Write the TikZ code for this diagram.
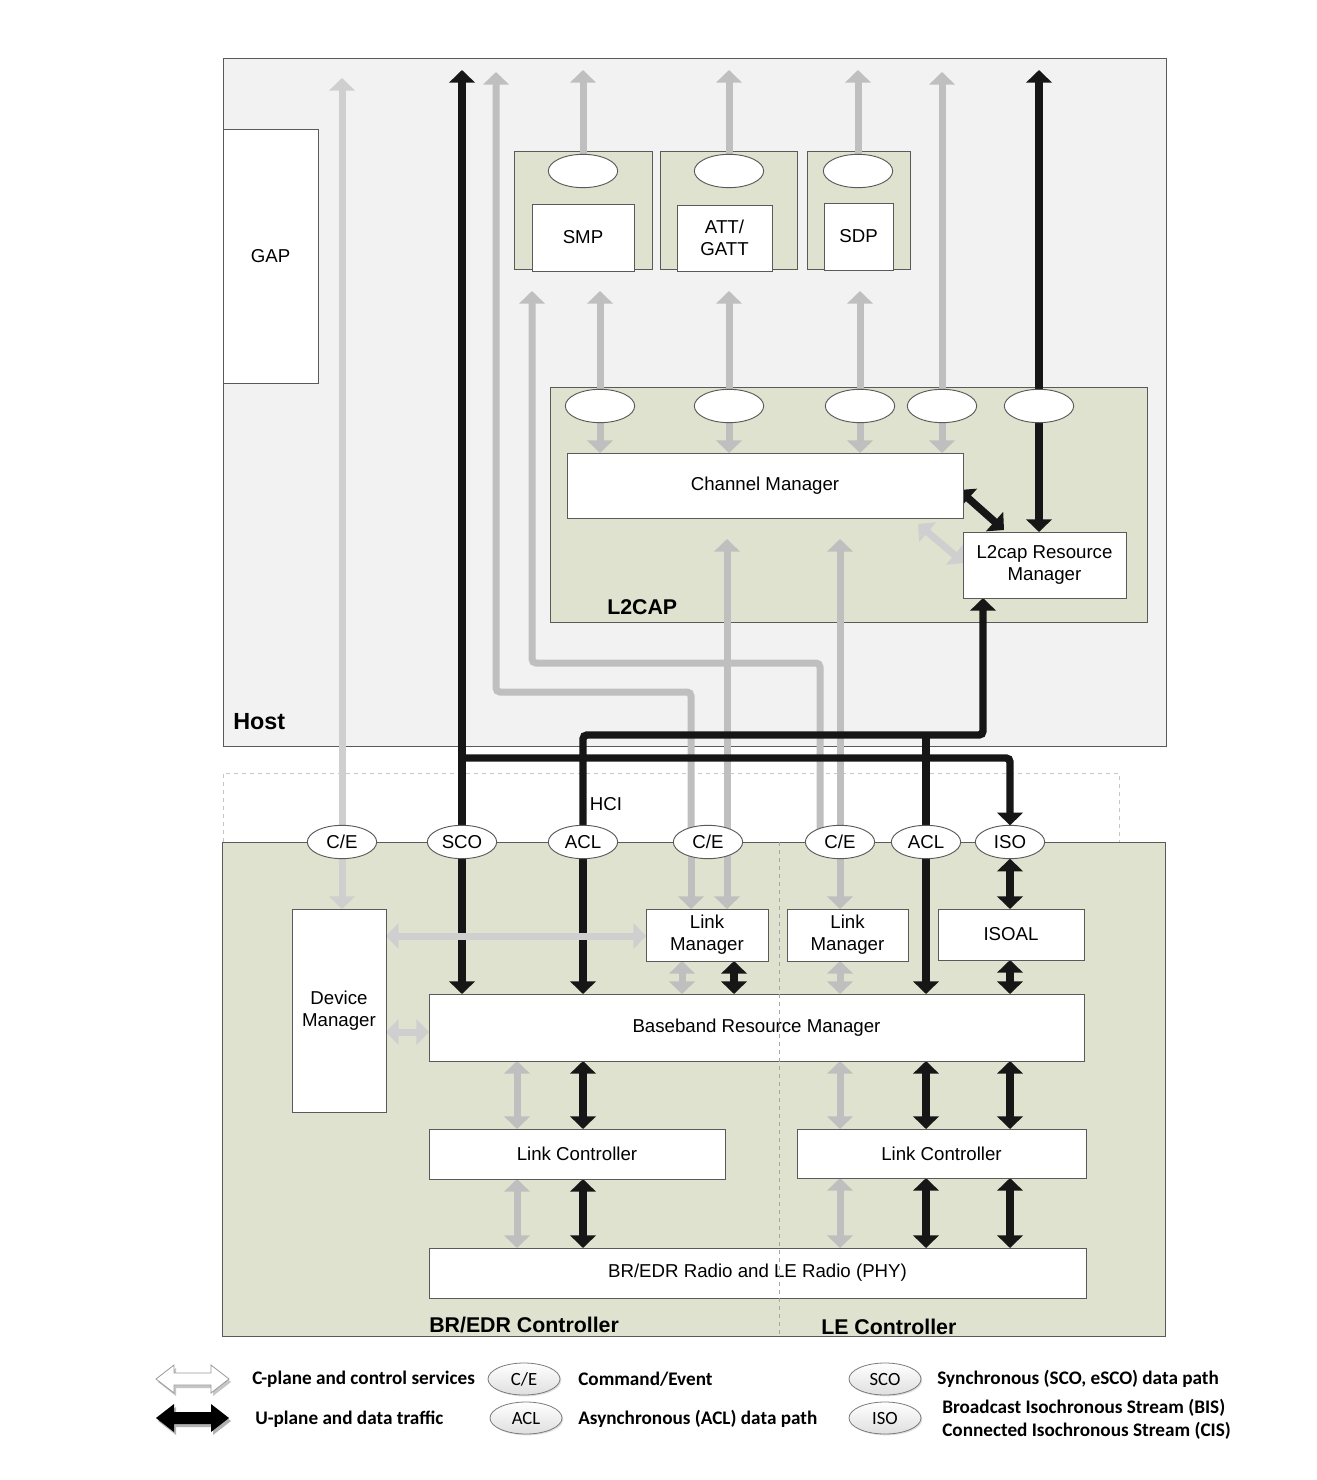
\documentclass[tikz,border=0pt]{standalone}
\usepackage{fontspec}
\setmainfont{Liberation Sans}
\newfontfamily\legfont{Carlito}
\usetikzlibrary{arrows.meta,shapes.geometric,calc,shadows}
\pgfdeclarelayer{back}
\pgfdeclarelayer{mid}
\pgfsetlayers{back,mid,main}
\definecolor{hostbg}{HTML}{F2F2F2}
\definecolor{grn}{RGB}{222,226,206}
\definecolor{garr}{HTML}{BFBFBF}
\definecolor{garrl}{HTML}{CFCFCF}
\definecolor{blk}{HTML}{161616}
\definecolor{edge}{HTML}{5A5A5A}
\tikzset{
  wbox/.style={draw=edge,line width=0.7pt,fill=white,inner sep=0pt,outer sep=0pt,align=center,font=\fontsize{14}{16.5}\selectfont},
  gbox/.style={draw=edge,line width=0.7pt,fill=grn,inner sep=0pt,outer sep=0pt},
  ell/.style={ellipse,draw=edge,line width=0.7pt,fill=white,minimum width=52pt,minimum height=25pt,inner sep=0pt,outer sep=0pt,font=\fontsize{14}{16}\selectfont},
  lbl/.style={inner sep=0pt,font=\bfseries\fontsize{16}{18}\selectfont},
  garrow/.style={draw=garr,line width=5.25pt,->},
  gdarrow/.style={draw=garr,line width=5.25pt,<->},
  lgarrow/.style={draw=garrl,line width=5.25pt,->},
  lgdarrow/.style={draw=garrl,line width=5.25pt,<->},
  barrow/.style={draw=blk,line width=5.6pt,->},
  bdarrow/.style={draw=blk,line width=5.6pt,<->},
  bline/.style={draw=blk,line width=5.6pt},
  legell/.style={ellipse,draw=edge!80,line width=0.6pt,top color=white,bottom color=gray!25,minimum width=54pt,minimum height=24pt,inner sep=0pt,font=\legfont\fontsize{14}{16}\selectfont,drop shadow={shadow xshift=1pt,shadow yshift=-1pt,opacity=0.25}},
  legtxt/.style={inner sep=0pt,anchor=west,font=\legfont\bfseries\fontsize{14.4}{16}\selectfont},
}
% \mkbox[style]{name}{x1}{y1}{x2}{y2}{text}  (pixel corners)
\newcommand{\mkbox}[7][wbox]{\node[#1,minimum width={(#5-#3)*0.75pt},minimum height={(#6-#4)*0.75pt}] (#2) at ({(#3+#5)/2},{(#4+#6)/2}) {#7};}
\begin{document}
\begin{tikzpicture}[x=0.75pt,y=-0.75pt,>={Triangle[length=9.5pt,width=19pt]}]
\useasboundingbox (0,0) rectangle (1316,1480);

% ---------- background regions ----------
\begin{pgfonlayer}{back}
\fill[white] (0,0) rectangle (1316,1480);
\mkbox[gbox,fill=hostbg]{host}{223}{58}{1166}{746}{}
\mkbox[gbox]{smpG}{514}{151}{652}{269}{}
\mkbox[gbox]{attG}{660}{151}{797}{269}{}
\mkbox[gbox]{sdpG}{807}{151}{910}{269}{}
\mkbox[gbox]{l2g}{550}{387}{1147}{622}{}
\draw[dashed,draw=gray!45,line width=0.5pt] (223,842) -- (223,773) -- (1119,773) -- (1119,842);
\mkbox[gbox]{ctrl}{222}{842}{1165}{1336}{}
\end{pgfonlayer}

% ---------- host ----------
\mkbox{gap}{223}{129}{318}{383}{GAP}
\node[ell] (smpE) at (583,171) {};
\mkbox{smp}{532}{204}{634}{271}{SMP}
\node[ell] (attE) at (729,171) {};
\mkbox{att}{677}{205}{772}{271}{ATT/\\GATT}
\node[ell] (sdpE) at (858,171) {};
\mkbox{sdp}{824}{203}{893}{270}{SDP}

\node[ell] (l1) at (600,406) {};
\node[ell] (l2) at (729,406) {};
\node[ell] (l3) at (860,406) {};
\node[ell] (l4) at (942,406) {};
\node[ell] (l5) at (1039,406) {};
\mkbox{cm}{567}{453}{963}{518}{Channel Manager}
\mkbox{rm}{963}{532}{1126}{598}{L2cap Resource\\Manager}
\node[lbl,anchor=west] (l2lbl) at (607,607) {L2CAP};
\node[lbl,anchor=west,font=\bfseries\fontsize{17.5}{19}\selectfont] (hostlbl) at (233,722) {Host};

% ---------- HCI ----------
\node[ell] (ce1) at (342,842) {C/E};
\node[ell] (sco) at (462,842) {SCO};
\node[ell] (aclB) at (583,842) {ACL};
\node[ell] (ce2) at (708,842) {C/E};
\node[ell] (ce3) at (840,842) {C/E};
\node[ell] (aclL) at (926,842) {ACL};
\node[ell] (iso) at (1010,842) {ISO};
\node[inner sep=0pt,font=\fontsize{14}{16}\selectfont] (hci) at (606,804) {HCI};

% ---------- controllers ----------
\mkbox{dm}{292}{909}{386}{1112}{Device\\Manager}
\mkbox{lmb}{646}{909}{768}{961}{Link\\Manager}
\mkbox{lml}{787}{909}{908}{961}{Link\\Manager}
\mkbox{isoal}{938}{909}{1084}{960}{ISOAL}
\mkbox{bb}{429}{994}{1084}{1061}{Baseband Resource Manager}
\mkbox{lcb}{429}{1129}{725}{1179}{Link Controller}
\mkbox{lcl}{797}{1129}{1086}{1178}{Link Controller}
\mkbox{radio}{429}{1248}{1086}{1298}{BR/EDR Radio and LE Radio (PHY)}
\draw[dashed,draw=gray!70,line width=0.5pt] (779,842) -- (779,1336);
\node[lbl,anchor=west] (brlbl) at (429,1325) {BR/EDR Controller};
\node[lbl,anchor=west] (lelbl) at (821,1327) {LE Controller};

% ---------- free ends / routing points ----------
\coordinate (topY) at (0,70);
\coordinate (ceTop) at (342,78);
\coordinate (scoTop) at (462,70);
\coordinate (rb1) at (691,692);
\coordinate (rb2) at (496,692);
\coordinate (rbTop) at (496,72);
\coordinate (rc1) at (820,663);
\coordinate (rc2) at (532,663);
\coordinate (rcTop) at (532,291);
\coordinate (cmIn1) at (727,539);
\coordinate (cmIn2) at (840,539);
\coordinate (scoJ) at (462,758);
\coordinate (aclJ) at (983,735);
\coordinate (xg1) at (682,0);
\coordinate (xb1) at (734,0);
\coordinate (xg2) at (517,0);
\coordinate (yLM) at (0,936);
\coordinate (yDB) at (0,1032);

\begin{pgfonlayer}{mid}
% top layer protocol arrows
\draw[garrow] (smpE.center) -- (smpE |- topY);
\draw[garrow] (attE.center) -- (attE |- topY);
\draw[garrow] (sdpE.center) -- (sdpE |- topY);
% L2CAP channels
\draw[garrow] (l1.center) -- (l1 |- rcTop);
\draw[garrow] (l2.center) -- (l2 |- rcTop);
\draw[garrow] (l3.center) -- (l3 |- rcTop);
\draw[garrow] (l4.center) -- (l4 |- rbTop);
\draw[barrow] (l5.center) -- (l5 |- topY);
\draw[garrow] (l1.center) -- (l1 |- cm.north);
\draw[garrow] (l2.center) -- (l2 |- cm.north);
\draw[garrow] (l3.center) -- (l3 |- cm.north);
\draw[garrow] (l4.center) -- (l4 |- cm.north);
\draw[barrow] (l5.center) -- (l5 |- rm.north);
\draw[bdarrow] ($(cm.south east)+(-4,-28)$) -- ($(rm.north west)+(41,-2)$);
\draw[lgdarrow] ($(cm.south east)+(-45,6)$) -- ($(rm.north west)+(1,31)$);
% command / event paths
\draw[lgarrow] (ce1.center) -- (ceTop);
\draw[lgarrow] (ce1.center) -- (ce1 |- dm.north);
\draw[garrow,rounded corners=3pt] (rb1 |- ce2.center) -- (rb1) -- (rb2) -- (rbTop);
\draw[garrow,rounded corners=3pt] (rc1 |- ce3.center) -- (rc1) -- (rc2) -- (rcTop);
\draw[garrow] (cmIn1 |- ce2.center) -- (cmIn1);
\draw[garrow] (cmIn2 |- ce3.center) -- (cmIn2);
\draw[garrow] (rb1 |- ce2.center) -- (rb1 |- lmb.north);
\draw[garrow] (cmIn1 |- ce2.center) -- (cmIn1 |- lmb.north);
\draw[garrow] (ce3.center) -- (ce3 |- lml.north);
% data paths
\draw[barrow] (sco.center) -- (scoTop);
\draw[barrow,rounded corners=3pt] (scoJ) -| (iso.north);
\draw[barrow,rounded corners=3pt] (aclB.center) |- (aclJ) -- (aclJ |- rm.south);
\draw[bline] (aclL |- aclJ) -- (aclL.center);
\draw[barrow] (sco.center) -- (sco |- bb.north);
\draw[barrow] (aclB.center) -- (aclB |- bb.north);
\draw[barrow] (aclL.center) -- (aclL |- bb.north);
\draw[bdarrow] (iso.south) -- (iso |- isoal.north);
\draw[bdarrow] (iso |- isoal.south) -- (iso |- bb.north);
% controller internals
\draw[gdarrow] (xg1 |- lmb.south) -- (xg1 |- bb.north);
\draw[bdarrow] (xb1 |- lmb.south) -- (xb1 |- bb.north);
\draw[gdarrow] (ce3 |- lml.south) -- (ce3 |- bb.north);
\draw[lgdarrow] (dm.east |- yLM) -- (lmb.west |- yLM);
\draw[lgdarrow] (dm.east |- yDB) -- (bb.west |- yDB);
\draw[gdarrow] (xg2 |- bb.south) -- (xg2 |- lcb.north);
\draw[bdarrow] (aclB |- bb.south) -- (aclB |- lcb.north);
\draw[gdarrow] (ce3 |- bb.south) -- (ce3 |- lcl.north);
\draw[bdarrow] (aclL |- bb.south) -- (aclL |- lcl.north);
\draw[bdarrow] (iso |- bb.south) -- (iso |- lcl.north);
\draw[gdarrow] (xg2 |- lcb.south) -- (xg2 |- radio.north);
\draw[bdarrow] (aclB |- lcb.south) -- (aclB |- radio.north);
\draw[gdarrow] (ce3 |- lcl.south) -- (ce3 |- radio.north);
\draw[bdarrow] (aclL |- lcl.south) -- (aclL |- radio.north);
\draw[bdarrow] (iso |- lcl.south) -- (iso |- radio.north);
\end{pgfonlayer}

% ---------- legend ----------
\fill[gray!45] (158,1382) -- (176,1368) -- (176,1376) -- (213,1376) -- (213,1368) -- (231,1382) -- (213,1396) -- (213,1388) -- (176,1388) -- (176,1396) -- cycle;
\filldraw[fill=white,draw=gray!80,line width=0.6pt] (156,1379) -- (174,1365) -- (174,1373) -- (211,1373) -- (211,1365) -- (229,1379) -- (211,1393) -- (211,1385) -- (174,1385) -- (174,1393) -- cycle;
\fill[gray!60] (158,1421) -- (176,1407) -- (176,1415) -- (213,1415) -- (213,1407) -- (231,1421) -- (213,1435) -- (213,1427) -- (176,1427) -- (176,1435) -- cycle;
\fill[black] (156,1418) -- (174,1404) -- (174,1412) -- (211,1412) -- (211,1404) -- (229,1418) -- (211,1432) -- (211,1424) -- (174,1424) -- (174,1432) -- cycle;
\node[legtxt] (lgt1) at (252,1379) {C-plane and control services};
\node[legtxt] (lgt2) at (255,1419) {U-plane and data traffic};
\node[legell] (lgce) at (524,1379) {C/E};
\node[legell] (lgacl) at (526,1418) {ACL};
\node[legtxt] (lgt3) at (578,1379) {Command/Event};
\node[legtxt] (lgt4) at (578,1419) {Asynchronous (ACL) data path};
\node[legell] (lgsco) at (885,1379) {SCO};
\node[legell] (lgiso) at (885,1418) {ISO};
\node[legtxt] (lgt5) at (937,1379) {Synchronous (SCO, eSCO) data path};
\node[legtxt] (lgt6) at (942,1408) {Broadcast Isochronous Stream (BIS)};
\node[legtxt] (lgt7) at (942,1431) {Connected Isochronous Stream (CIS)};
\end{tikzpicture}
\end{document}
